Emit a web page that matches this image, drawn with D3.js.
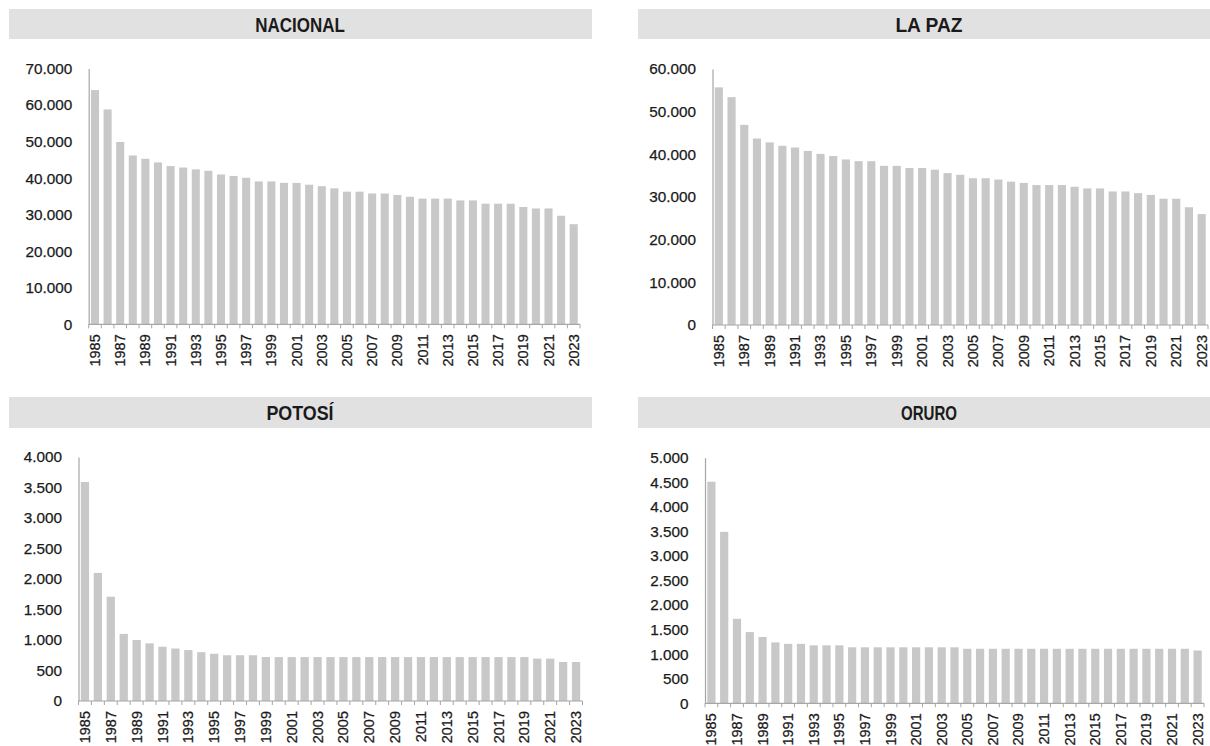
<!DOCTYPE html>
<html>
<head>
<meta charset="utf-8">
<script src="https://cdn.jsdelivr.net/npm/d3@7"></script>
<style>
  html, body { margin: 0; padding: 0; background: #ffffff; }
  svg { display: block; }
  text { font-family: "Liberation Sans", Arial, Helvetica, sans-serif; fill: #1a1a1a; }
</style>
</head>
<body>
<svg id="chart" width="1210" height="746"></svg>
<script>
// ---------------- DATA ----------------
const years = d3.range(1985, 2024);
const titles = ["NACIONAL", "LA PAZ", "POTOSÍ", "ORURO"];

const nacional = [64100, 58800, 49900, 46200, 45300, 44300, 43300, 42900, 42400, 42000,
                  41000, 40600, 40100, 39100, 39100, 38700, 38700, 38200, 37800, 37200,
                  36300, 36300, 35800, 35800, 35400, 34900, 34400, 34400, 34400, 33900,
                  33900, 33000, 33000, 33000, 32100, 31700, 31700, 29700, 27400];

const laPaz = [55700, 53400, 46900, 43700, 42800, 42000, 41600, 40800, 40100, 39600,
               38800, 38400, 38400, 37300, 37300, 36800, 36800, 36400, 35600, 35200,
               34400, 34400, 34100, 33600, 33300, 32800, 32800, 32800, 32400, 32000,
               32000, 31300, 31300, 30900, 30500, 29600, 29600, 27600, 26000];

const potosi = [3590, 2100, 1710, 1100, 1000, 945, 890, 860, 835, 800,
                775, 750, 750, 750, 720, 720, 720, 720, 720, 720,
                720, 720, 720, 720, 720, 720, 720, 720, 720, 720,
                720, 720, 720, 720, 720, 695, 695, 640, 640];

const oruro = [4510, 3490, 1720, 1450, 1350, 1240, 1210, 1210, 1180, 1180,
               1180, 1140, 1140, 1140, 1140, 1140, 1140, 1140, 1140, 1140,
               1110, 1110, 1110, 1110, 1110, 1110, 1110, 1110, 1110, 1110,
               1110, 1110, 1110, 1110, 1110, 1110, 1110, 1110, 1075];

const yMaxes = [70000, 60000, 4000, 5000];
const yStepsList = [10000, 10000, 500, 500];
const series = [nacional, laPaz, potosi, oruro];

// ---------------- LAYOUT ----------------
const layout = [
  { hx0: 9,   hx1: 592,  hy0: 9,   hy1: 39,  tx: 300, x0: 88.7,  x1: 580,  yTop: 68.5,  yBot: 324.3 },
  { hx0: 638, hx1: 1221, hy0: 9,   hy1: 39,  tx: 929, x0: 712.5, x1: 1208, yTop: 69,    yBot: 325 },
  { hx0: 9,   hx1: 592,  hy0: 397, hy1: 428, tx: 300, x0: 78.5,  x1: 582.5, yTop: 457,  yBot: 701 },
  { hx0: 638, hx1: 1221, hy0: 397, hy1: 428, tx: 929, x0: 705,   x1: 1204, yTop: 457.7, yBot: 703.3 }
];

const loc = d3.formatLocale({ decimal: ",", thousands: ".", grouping: [3], currency: ["", ""] });
const fmt = loc.format(",d");

const svg = d3.select("#chart");
const BAR = "#c8c8c8";
const AXIS = "#a6a6a6";
const HEAD = "#e1e1e1";

series.forEach((vals, k) => {
  const L = layout[k];
  const g = svg.append("g");

  // header band
  g.append("rect")
    .attr("x", L.hx0).attr("y", L.hy0)
    .attr("width", L.hx1 - L.hx0).attr("height", L.hy1 - L.hy0)
    .attr("fill", HEAD);
  g.append("text")
    .attr("x", L.tx).attr("y", (L.hy0 + L.hy1) / 2)
    .attr("text-anchor", "middle").attr("dominant-baseline", "central")
    .attr("font-size", 21).attr("font-weight", "bold")
    .attr("textLength", titles[k].length * 11.2)
    .attr("lengthAdjust", "spacingAndGlyphs")
    .style("font-family", "'Liberation Sans Narrow', 'Liberation Sans', Arial, sans-serif")
    .text(titles[k]);

  const x = d3.scaleBand().domain(years).range([L.x0, L.x1]).paddingInner(0.36).paddingOuter(0.18);
  const y = d3.scaleLinear().domain([0, yMaxes[k]]).range([L.yBot, L.yTop]);

  // bars
  g.append("g").selectAll("rect").data(vals).join("rect")
    .attr("x", (d, i) => x(years[i]))
    .attr("y", d => y(d))
    .attr("width", x.bandwidth())
    .attr("height", d => y(0) - y(d))
    .attr("fill", BAR);

  // y axis
  const yTicks = d3.range(0, yMaxes[k] + 1, yStepsList[k]);
  const ya = g.append("g").attr("transform", `translate(${L.x0},0)`)
    .call(d3.axisLeft(y).tickValues(yTicks).tickFormat(fmt).tickSize(0).tickPadding(16.5));
  ya.select(".domain").attr("stroke", AXIS).attr("stroke-width", 1.2);
  ya.selectAll("text").attr("font-size", 15.3).attr("fill", "#1a1a1a")
    .attr("stroke", "#1a1a1a").attr("stroke-width", 0.25)
    .style("font-family", "'Liberation Sans', Arial, sans-serif");

  // x axis: tick marks at band boundaries
  const step = x.step();
  const bounds = d3.range(0, years.length + 1);
  const xb = d3.scaleLinear().domain([0, years.length]).range([L.x0, L.x0 + step * years.length]);
  g.append("line")
    .attr("x1", L.x0).attr("x2", xb(years.length))
    .attr("y1", y(0)).attr("y2", y(0))
    .attr("stroke", AXIS).attr("stroke-width", 1.2);
  g.append("g").selectAll("line").data(bounds).join("line")
    .attr("x1", d => xb(d)).attr("x2", d => xb(d))
    .attr("y1", y(0)).attr("y2", y(0) + 4)
    .attr("stroke", AXIS).attr("stroke-width", 1);

  // x labels (every other year)
  const xa = g.append("g").attr("transform", `translate(0,${y(0)})`)
    .call(d3.axisBottom(x).tickValues(years.filter(yr => (yr - 1985) % 2 === 0)).tickSize(0).tickPadding(0));
  xa.select(".domain").remove();
  xa.selectAll("text")
    .attr("font-size", 14.5).attr("fill", "#1a1a1a")
    .attr("stroke", "#1a1a1a").attr("stroke-width", 0.25)
    .style("font-family", "'Liberation Sans', Arial, sans-serif")
    .attr("text-anchor", "end")
    .attr("dy", null)
    .attr("dominant-baseline", "central")
    .attr("transform", "translate(0,10) rotate(-90)")
    .attr("x", 0).attr("y", 0);
});
</script>
</body>
</html>
